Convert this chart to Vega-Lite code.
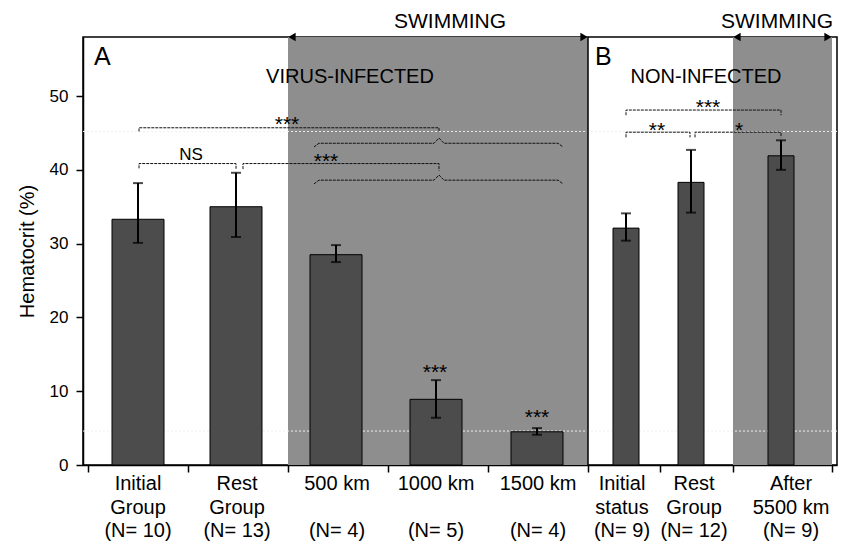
{
  "$schema": "https://vega.github.io/schema/vega-lite/v6.json",
  "width": 754,
  "height": 428,
  "autosize": {"type": "none"},
  "padding": {"left": 83, "top": 37, "right": 9, "bottom": 80},
  "background": "white",
  "config": {
    "font": "Liberation Sans",
    "view": {"stroke": "black", "strokeWidth": 1.5},
    "text": {"color": "black", "font": "Liberation Sans"}
  },
  "datasets": {
    "bars": [
      {"g": "Initial Group", "panel": "A", "x": 0.5, "lx": 0.5, "name": "Initial\nGroup", "n": "(N= 10)", "mean": 33.3, "lo": 30.1, "hi": 38.2},
      {"g": "Rest Group", "panel": "A", "x": 1.48, "lx": 1.49, "name": "Rest\nGroup", "n": "(N= 13)", "mean": 35.0, "lo": 30.9, "hi": 39.6},
      {"g": "500 km", "panel": "A", "x": 2.48, "lx": 2.49, "name": "500 km", "n": "(N= 4)", "mean": 28.5, "lo": 27.5, "hi": 29.8},
      {"g": "1000 km", "panel": "A", "x": 3.48, "lx": 3.48, "name": "1000 km", "n": "(N= 5)", "mean": 8.9, "lo": 6.4, "hi": 11.5},
      {"g": "1500 km", "panel": "A", "x": 4.49, "lx": 4.5, "name": "1500 km", "n": "(N= 4)", "mean": 4.5, "lo": 4.1, "hi": 5.0},
      {"g": "Initial status", "panel": "B", "x": 5.38, "lx": 5.34, "name": "Initial\nstatus", "n": "(N= 9)", "mean": 32.1, "lo": 30.4, "hi": 34.1},
      {"g": "Rest Group (B)", "panel": "B", "x": 6.03, "lx": 6.06, "name": "Rest\nGroup", "n": "(N= 12)", "mean": 38.3, "lo": 34.2, "hi": 42.7},
      {"g": "After 5500 km", "panel": "B", "x": 6.93, "lx": 7.03, "name": "After\n5500 km", "n": "(N= 9)", "mean": 41.9, "lo": 40.0, "hi": 44.0}
    ],
    "swim": [
      {"s": 2, "e": 5, "lx": 3.62, "label": "SWIMMING"},
      {"s": 6.45, "e": 7.44, "lx": 6.89, "label": "SWIMMING"}
    ],
    "refs": [{"v": 4.6}, {"v": 45.2}],
    "sep": [{"v": 5}],
    "brackets": [
      {"id": "ns", "o": 1, "x": 0.51, "y": 40.2}, {"id": "ns", "o": 2, "x": 0.51, "y": 40.85}, {"id": "ns", "o": 3, "x": 1.48, "y": 40.85}, {"id": "ns", "o": 4, "x": 1.48, "y": 40.1},
      {"id": "a2", "o": 1, "x": 1.55, "y": 40.1}, {"id": "a2", "o": 2, "x": 1.55, "y": 40.85}, {"id": "a2", "o": 3, "x": 3.51, "y": 40.85}, {"id": "a2", "o": 4, "x": 3.51, "y": 39.9},
      {"id": "a1", "o": 1, "x": 0.51, "y": 45.2}, {"id": "a1", "o": 2, "x": 0.51, "y": 45.7}, {"id": "a1", "o": 3, "x": 3.51, "y": 45.7}, {"id": "a1", "o": 4, "x": 3.51, "y": 45.1},
      {"id": "c1", "o": 1, "x": 2.26, "y": 43.1}, {"id": "c1", "o": 2, "x": 2.31, "y": 43.6}, {"id": "c1", "o": 3, "x": 3.46, "y": 43.6}, {"id": "c1", "o": 4, "x": 3.51, "y": 44.3}, {"id": "c1", "o": 5, "x": 3.56, "y": 43.6}, {"id": "c1", "o": 6, "x": 4.7, "y": 43.6}, {"id": "c1", "o": 7, "x": 4.75, "y": 43.1},
      {"id": "c2", "o": 1, "x": 2.26, "y": 38.1}, {"id": "c2", "o": 2, "x": 2.31, "y": 38.6}, {"id": "c2", "o": 3, "x": 3.46, "y": 38.6}, {"id": "c2", "o": 4, "x": 3.51, "y": 39.3}, {"id": "c2", "o": 5, "x": 3.56, "y": 38.6}, {"id": "c2", "o": 6, "x": 4.7, "y": 38.6}, {"id": "c2", "o": 7, "x": 4.75, "y": 38.1},
      {"id": "b1", "o": 1, "x": 5.38, "y": 47.4}, {"id": "b1", "o": 2, "x": 5.38, "y": 48.1}, {"id": "b1", "o": 3, "x": 6.93, "y": 48.1}, {"id": "b1", "o": 4, "x": 6.93, "y": 47.4},
      {"id": "b2", "o": 1, "x": 5.38, "y": 44.4}, {"id": "b2", "o": 2, "x": 5.38, "y": 45.1}, {"id": "b2", "o": 3, "x": 6.02, "y": 45.1}, {"id": "b2", "o": 4, "x": 6.02, "y": 44.4},
      {"id": "b3", "o": 1, "x": 6.07, "y": 44.4}, {"id": "b3", "o": 2, "x": 6.07, "y": 45.1}, {"id": "b3", "o": 3, "x": 6.93, "y": 45.1}, {"id": "b3", "o": 4, "x": 6.93, "y": 44.4}
    ],
    "letters": [
      {"x": 0.06, "y": 54.2, "t": "A"},
      {"x": 5.07, "y": 54.2, "t": "B"}
    ],
    "titles": [
      {"x": 2.62, "y": 51.8, "t": "VIRUS-INFECTED"},
      {"x": 6.18, "y": 51.8, "t": "NON-INFECTED"}
    ],
    "ns": [{"x": 1.03, "y": 41.3, "t": "NS"}],
    "stars": [
      {"x": 1.99, "y": 45.2, "t": "***"},
      {"x": 2.38, "y": 40.2, "t": "***"},
      {"x": 3.47, "y": 11.7, "t": "***"},
      {"x": 4.49, "y": 5.5, "t": "***"},
      {"x": 6.2, "y": 47.5, "t": "***"},
      {"x": 5.69, "y": 44.4, "t": "**"},
      {"x": 6.51, "y": 44.4, "t": "*"}
    ]
  },
  "layer": [
    {
      "data": {"name": "swim"},
      "mark": {"type": "rect", "fill": "#8e8e8e"},
      "encoding": {
        "x": {
          "field": "s", "type": "quantitative",
          "scale": {"domain": [0, 7.44], "nice": false, "zero": false},
          "axis": {"title": null, "values": [0, 1, 2, 3, 4, 5, 5.72, 6.45, 7.44], "labels": false, "tickSize": 7, "grid": false, "domainColor": "black", "tickColor": "black", "domainWidth": 1.5, "tickWidth": 1.5}
        },
        "x2": {"field": "e"},
        "y": {
          "datum": 0, "type": "quantitative",
          "scale": {"domain": [0, 58], "nice": false, "zero": true},
          "axis": {"title": "Hematocrit (%)", "values": [0, 5, 10, 15, 20, 25, 30, 35, 40, 45, 50, 55], "labelExpr": "datum.value % 10 === 0 ? datum.label : ''", "tickSize": 7, "labelFontSize": 17, "titleFontSize": 20, "titleFontWeight": "normal", "grid": false, "domainColor": "black", "tickColor": "black", "labelColor": "black", "titleColor": "black", "labelPadding": 8, "titlePadding": 12, "domainWidth": 1.5, "tickWidth": 1.5}
        },
        "y2": {"datum": 58}
      }
    },
    {
      "data": {"name": "refs"},
      "mark": {"type": "rule", "color": "#f0f0f0", "strokeDash": [2, 2], "strokeWidth": 1},
      "encoding": {"y": {"field": "v", "type": "quantitative"}}
    },
    {
      "data": {"name": "sep"},
      "mark": {"type": "rule", "color": "black", "strokeWidth": 1.5},
      "encoding": {"x": {"field": "v", "type": "quantitative"}}
    },
    {
      "data": {"name": "bars"},
      "transform": [{"filter": "datum.panel === 'A'"}],
      "mark": {"type": "bar", "width": 52, "fill": "#4c4c4c", "stroke": "black", "strokeWidth": 1},
      "encoding": {
        "x": {"field": "x", "type": "quantitative"},
        "y": {"field": "mean", "type": "quantitative"}
      }
    },
    {
      "data": {"name": "bars"},
      "transform": [{"filter": "datum.panel === 'B'"}],
      "mark": {"type": "bar", "width": 26, "fill": "#4c4c4c", "stroke": "black", "strokeWidth": 1},
      "encoding": {
        "x": {"field": "x", "type": "quantitative"},
        "y": {"field": "mean", "type": "quantitative"}
      }
    },
    {
      "data": {"name": "bars"},
      "mark": {"type": "rule", "color": "black", "strokeWidth": 2},
      "encoding": {
        "x": {"field": "x", "type": "quantitative"},
        "y": {"field": "lo", "type": "quantitative"},
        "y2": {"field": "hi"}
      }
    },
    {
      "data": {"name": "bars"},
      "mark": {"type": "tick", "orient": "horizontal", "color": "black", "size": 10, "thickness": 2},
      "encoding": {
        "x": {"field": "x", "type": "quantitative"},
        "y": {"field": "hi", "type": "quantitative"}
      }
    },
    {
      "data": {"name": "bars"},
      "mark": {"type": "tick", "orient": "horizontal", "color": "black", "size": 10, "thickness": 2},
      "encoding": {
        "x": {"field": "x", "type": "quantitative"},
        "y": {"field": "lo", "type": "quantitative"}
      }
    },
    {
      "data": {"name": "brackets"},
      "mark": {"type": "line", "color": "#111111", "strokeWidth": 1, "strokeDash": [3, 1]},
      "encoding": {
        "x": {"field": "x", "type": "quantitative"},
        "y": {"field": "y", "type": "quantitative"},
        "detail": {"field": "id"},
        "order": {"field": "o"}
      }
    },
    {
      "data": {"name": "swim"},
      "mark": {"type": "point", "shape": "triangle-left", "filled": true, "color": "black", "size": 70, "opacity": 1, "xOffset": 4},
      "encoding": {
        "x": {"field": "s", "type": "quantitative"},
        "y": {"datum": 58, "type": "quantitative"}
      }
    },
    {
      "data": {"name": "swim"},
      "mark": {"type": "point", "shape": "triangle-right", "filled": true, "color": "black", "size": 70, "opacity": 1, "xOffset": -4},
      "encoding": {
        "x": {"field": "e", "type": "quantitative"},
        "y": {"datum": 58, "type": "quantitative"}
      }
    },
    {
      "data": {"name": "swim"},
      "mark": {"type": "text", "fontSize": 21, "baseline": "alphabetic", "align": "center"},
      "encoding": {
        "x": {"field": "lx", "type": "quantitative"},
        "y": {"datum": 59.2, "type": "quantitative"},
        "text": {"field": "label"}
      }
    },
    {
      "data": {"name": "letters"},
      "mark": {"type": "text", "fontSize": 25, "baseline": "alphabetic", "align": "left"},
      "encoding": {
        "x": {"field": "x", "type": "quantitative"},
        "y": {"field": "y", "type": "quantitative"},
        "text": {"field": "t"}
      }
    },
    {
      "data": {"name": "titles"},
      "mark": {"type": "text", "fontSize": 20, "baseline": "alphabetic", "align": "center"},
      "encoding": {
        "x": {"field": "x", "type": "quantitative"},
        "y": {"field": "y", "type": "quantitative"},
        "text": {"field": "t"}
      }
    },
    {
      "data": {"name": "ns"},
      "mark": {"type": "text", "fontSize": 17, "baseline": "alphabetic", "align": "center"},
      "encoding": {
        "x": {"field": "x", "type": "quantitative"},
        "y": {"field": "y", "type": "quantitative"},
        "text": {"field": "t"}
      }
    },
    {
      "data": {"name": "stars"},
      "mark": {"type": "text", "fontSize": 21, "baseline": "alphabetic", "align": "center"},
      "encoding": {
        "x": {"field": "x", "type": "quantitative"},
        "y": {"field": "y", "type": "quantitative"},
        "text": {"field": "t"}
      }
    },
    {
      "data": {"name": "bars"},
      "mark": {"type": "text", "fontSize": 20, "baseline": "top", "align": "center", "lineBreak": "\n", "lineHeight": 23.5, "dy": 9},
      "encoding": {
        "x": {"field": "lx", "type": "quantitative"},
        "y": {"datum": 0, "type": "quantitative"},
        "text": {"field": "name"}
      }
    },
    {
      "data": {"name": "bars"},
      "mark": {"type": "text", "fontSize": 20, "baseline": "top", "align": "center", "dy": 56},
      "encoding": {
        "x": {"field": "lx", "type": "quantitative"},
        "y": {"datum": 0, "type": "quantitative"},
        "text": {"field": "n"}
      }
    }
  ]
}
